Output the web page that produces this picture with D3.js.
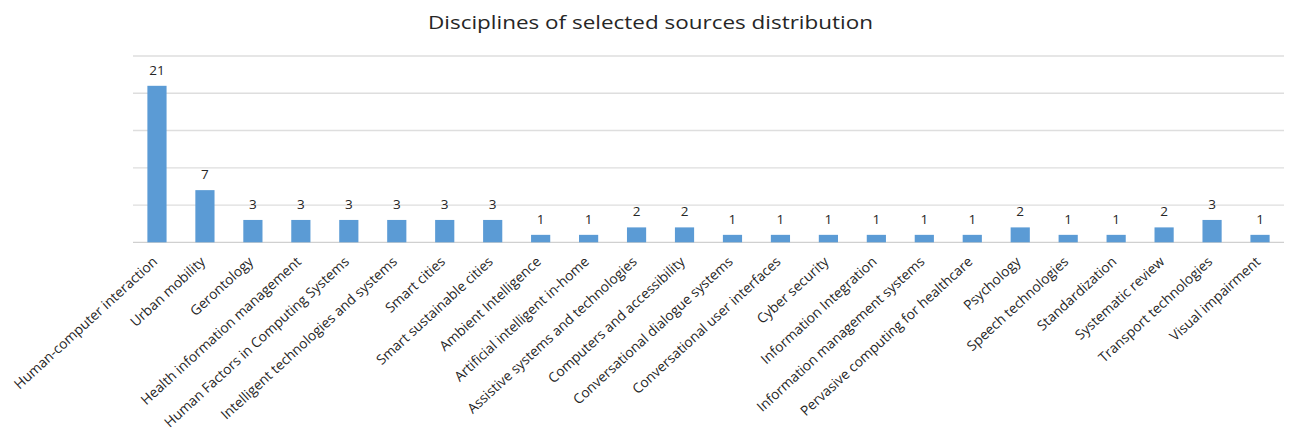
<!DOCTYPE html>
<html>
<head>
<meta charset="utf-8">
<script src="https://cdn.jsdelivr.net/npm/d3@7"></script>
<style>
  html, body { margin: 0; padding: 0; background: #fff; }
  svg { display: block; font-family: "Open Sans", "Noto Sans", sans-serif; }
</style>
</head>
<body>
<svg id="chart" width="1293" height="432"></svg>
<script>
const categories = [
  "Human-computer interaction", "Urban mobility", "Gerontology",
  "Health information management", "Human Factors in Computing Systems",
  "Intelligent technologies and systems", "Smart cities", "Smart sustainable cities",
  "Ambient Intelligence", "Artificial intelligent in-home",
  "Assistive systems and technologies", "Computers and accessibility",
  "Conversational dialogue systems", "Conversational user interfaces",
  "Cyber security", "Information Integration", "Information management systems",
  "Pervasive computing for healthcare", "Psychology", "Speech technologies",
  "Standardization", "Systematic review", "Transport technologies", "Visual impairment"
];
const counts = [21, 7, 3, 3, 3, 3, 3, 3, 1, 1, 2, 2, 1, 1, 1, 1, 1, 1, 2, 1, 1, 2, 3, 1];
const yTicks = [0, 5, 10, 15, 20, 25];
const title = "Disciplines of selected sources distribution";

const svg = d3.select("#chart");
const margin = { left: 133, right: 9, top: 56, bottom: 190 };
const W = 1293, H = 432;

const x = d3.scaleBand()
  .domain(categories)
  .range([margin.left, W - margin.right])
  .paddingInner(0.6)
  .paddingOuter(0.3);

const y = d3.scaleLinear()
  .domain([0, 25])
  .range([H - margin.bottom + 0.3, margin.top]);

// Title
svg.append("text")
  .attr("x", 428).attr("y", 29)
  .attr("font-size", 19)
  .attr("fill", "#262626")
  .attr("textLength", 445)
  .attr("lengthAdjust", "spacingAndGlyphs")
  .text(title);

// Horizontal gridlines
svg.append("g")
  .selectAll("line")
  .data(yTicks)
  .join("line")
  .attr("x1", margin.left).attr("x2", W - margin.right)
  .attr("y1", d => y(d)).attr("y2", d => y(d))
  .attr("stroke", d => d === 0 ? "#d0d0d0" : "#dedede")
  .attr("stroke-width", 1.3);

// Bars
svg.append("g")
  .selectAll("rect")
  .data(categories)
  .join("rect")
  .attr("x", d => x(d))
  .attr("width", x.bandwidth())
  .attr("y", (d, i) => y(counts[i]))
  .attr("height", (d, i) => y(0) - y(counts[i]))
  .attr("fill", "#5b9bd5");

// Value labels
svg.append("g")
  .selectAll("text")
  .data(categories)
  .join("text")
  .attr("x", d => x(d) + x.bandwidth() / 2)
  .attr("y", (d, i) => y(counts[i]) - 11)
  .attr("text-anchor", "middle")
  .attr("font-size", 13.5)
  .attr("fill", "#262626")
  .text((d, i) => counts[i]);

// Category axis labels, rotated
const xAxis = d3.axisBottom(x).tickSize(0).tickPadding(0);
const gx = svg.append("g")
  .attr("transform", `translate(0,${y(0)})`)
  .call(xAxis);
gx.select(".domain").remove();
gx.selectAll("text")
  .attr("font-family", "\"Open Sans\", sans-serif")
  .attr("font-size", 13.8)
  .attr("fill", "#262626")
  .attr("text-anchor", "end")
  .attr("dy", "0.35em")
  .attr("transform", "translate(-2,17) rotate(-42.5)");
</script>
</body>
</html>
